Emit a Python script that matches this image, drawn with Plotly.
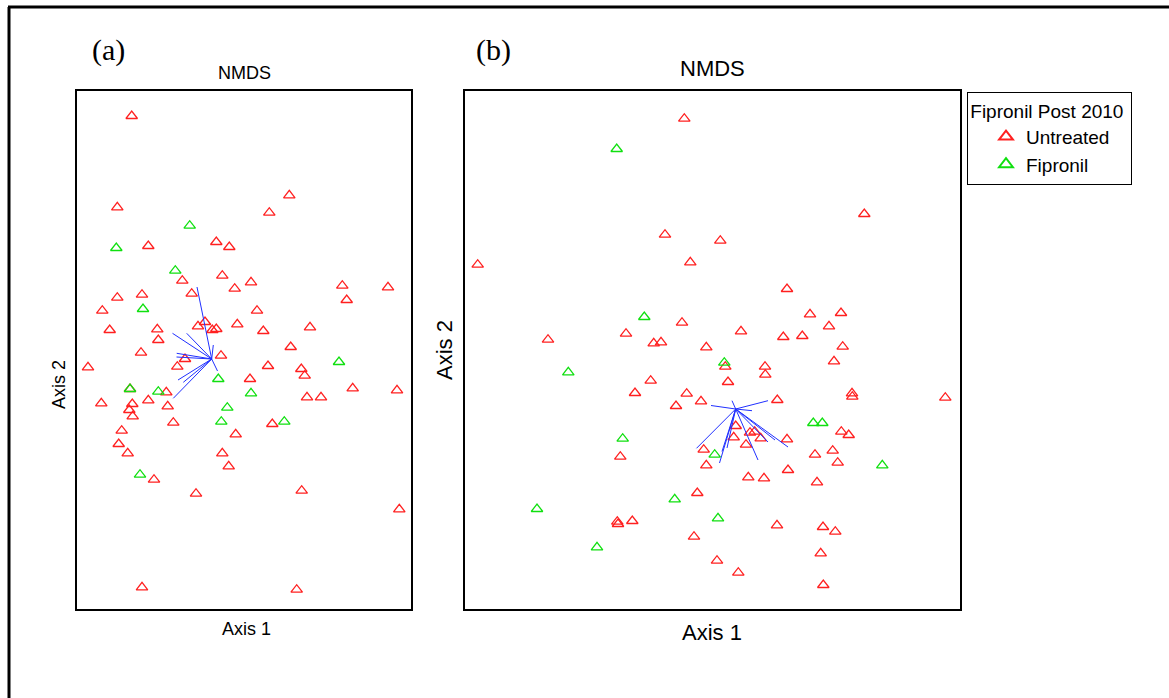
import plotly.graph_objects as go

W, H = 1169, 698

# ---------------- Panel (a) data (Axis 1, Axis 2 scores) ----------------
a_untreated_x = [131.7, 289.3, 269.3, 117.3, 148.3, 216.3, 229.3, 182.3, 222.3, 251, 234.7, 191.7,
                 117.3, 142, 342.3, 388, 346.7, 102.3, 257, 109.7, 157.3, 158.3, 198, 205, 212.3,
                 216.3, 237.3, 263.3, 310, 290.7, 141, 185, 221, 177.3, 88, 268, 301.3, 304.7,
                 250, 130, 166.3, 101.3, 132.3, 148.3, 167.7, 129.3, 132.7, 352.7, 397, 307, 321,
                 173.3, 272.3, 235.7, 121.7, 118.7, 127.7, 222.3, 228.7, 154, 196, 301.7, 399.3,
                 142, 296.7]
a_untreated_y = [116, 195.3, 212.7, 207.3, 246, 242, 247, 280.7, 275.7, 282.3, 288.7, 293.7,
                 297.7, 294.7, 285.7, 287.3, 300, 310.7, 310.7, 330, 329.3, 340, 326.3, 322, 330,
                 329, 324.3, 331, 327.3, 347, 352.7, 359, 355.7, 366.7, 367.3, 366, 369, 375.7,
                 379, 389, 392.3, 403.3, 404, 400.3, 406.3, 410, 416.3, 388.3, 390.3, 397.3, 397.3,
                 422.7, 424, 434.3, 430.7, 444, 453.3, 453.3, 466.3, 479.7, 493.7, 490.7, 509.3,
                 587.3, 589.7]
a_fipronil_x = [189.7, 116.3, 175.3, 143, 339, 218.3, 130, 158.3, 251, 227.3, 221.3, 284.3, 140]
a_fipronil_y = [225.7, 248, 270.7, 309, 362, 379, 389, 391.7, 393.3, 407.7, 421.7, 421.7, 474.7]
a_vec_origin = (211.7, 359)
a_vec_end_x = [197, 172.5, 186.7, 176.7, 176.5, 178, 183.3, 173.3, 217.5, 213.3]
a_vec_end_y = [287, 333.3, 333.3, 353.3, 357, 380, 382.3, 398.3, 371, 345]

# ---------------- Panel (b) data ----------------
b_untreated_x = [684.3, 864.3, 665, 720.3, 477.7, 690.3, 787, 682, 810, 841, 829, 626, 741, 783.3,
                 802.3, 548, 653.7, 661, 706.3, 842.7, 834, 725.3, 765, 765.3, 728, 650.7, 635,
                 686.7, 701, 676, 777.3, 852, 852.3, 945.3, 841.3, 848.7, 735.7, 750, 754.7, 733.7,
                 760.7, 746, 787, 815, 832.7, 837.7, 703.7, 620.3, 706.3, 748.3, 764, 788, 817,
                 697.3, 617.3, 618, 632.3, 777, 823, 835.3, 694, 820.7, 717, 738.3, 823.3]
b_untreated_y = [118.7, 214, 234.7, 240.7, 264.7, 262.3, 289, 322.7, 314.3, 313, 326.3, 333.7, 331.3,
                 337, 336, 339.7, 343.3, 342.3, 347.3, 346.7, 361.3, 366.7, 366.7, 374.7, 382,
                 380.7, 393, 393.7, 401.3, 406, 400, 393.3, 396.7, 397.7, 431.7, 435, 426, 432.7,
                 431.7, 437.3, 438.3, 444.7, 439.3, 454.7, 450.7, 462.7, 449.7, 456.7, 465.3, 477.3,
                 478.3, 470, 482.3, 493, 521.7, 524, 521, 525.3, 527, 531.7, 536.7, 553.3, 560.7,
                 572.7, 585]
b_fipronil_x = [616.7, 644.3, 724.3, 568.3, 813.3, 822.3, 622.7, 714.7, 882.3, 674.7, 537, 718, 597]
b_fipronil_y = [149, 317, 362.7, 372.3, 423, 423, 438.7, 454.7, 465.3, 499.3, 509, 518.3, 547.3]
b_vec_origin = (735.7, 409)
b_vec_end_x = [711, 732, 768, 752, 696.5, 719.5, 722, 727, 758, 768, 788, 775]
b_vec_end_y = [405.5, 400.7, 400.7, 410.7, 448.3, 463, 451.5, 448, 460, 442, 447, 440]

RED = "#ff2020"
GREEN = "#10e010"
BLUE = "#2030ff"
SANS = "Arial, Liberation Sans, sans-serif"
SERIF = "Times New Roman, Liberation Serif, serif"

fig = go.Figure()


def vec_trace(origin, ex, ey, xa, ya):
    xs, ys = [], []
    for x, y in zip(ex, ey):
        xs += [origin[0], x, None]
        ys += [origin[1], y, None]
    return go.Scatter(x=xs, y=ys, mode="lines", line=dict(color=BLUE, width=1),
                      xaxis=xa, yaxis=ya, showlegend=False, hoverinfo="skip")


def mk(c):
    return dict(symbol="triangle-up-open", size=10, color=c, line=dict(width=1.3, color=c))


# panel a
fig.add_trace(go.Scatter(x=a_untreated_x, y=a_untreated_y, mode="markers", marker=mk(RED),
                         name="Untreated", xaxis="x", yaxis="y", showlegend=True))
fig.add_trace(go.Scatter(x=a_fipronil_x, y=a_fipronil_y, mode="markers", marker=mk(GREEN),
                         name="Fipronil", xaxis="x", yaxis="y", showlegend=True))
fig.add_trace(vec_trace(a_vec_origin, a_vec_end_x, a_vec_end_y, "x", "y"))
# panel b
fig.add_trace(go.Scatter(x=b_untreated_x, y=b_untreated_y, mode="markers", marker=mk(RED),
                         name="Untreated", xaxis="x2", yaxis="y2", showlegend=False))
fig.add_trace(go.Scatter(x=b_fipronil_x, y=b_fipronil_y, mode="markers", marker=mk(GREEN),
                         name="Fipronil", xaxis="x2", yaxis="y2", showlegend=False))
fig.add_trace(vec_trace(b_vec_origin, b_vec_end_x, b_vec_end_y, "x2", "y2"))


def px(x):
    return x / W


def py(y):
    return 1 - y / H


ax_common = dict(showline=True, mirror=True, linecolor="black", linewidth=2, showgrid=False,
                 zeroline=False, showticklabels=False, ticks="")

fig.update_layout(
    width=W, height=H,
    margin=dict(l=0, r=0, t=0, b=0),
    paper_bgcolor="white", plot_bgcolor="white",
    font=dict(family=SANS, color="black"),
    xaxis=dict(domain=[px(77), px(411)], range=[77, 411], anchor="y", **ax_common),
    yaxis=dict(domain=[py(609), py(91)], range=[609, 91], anchor="x", **ax_common),
    xaxis2=dict(domain=[px(465), px(960)], range=[465, 960], anchor="y2", **ax_common),
    yaxis2=dict(domain=[py(609), py(91)], range=[609, 91], anchor="x2", **ax_common),
    legend=dict(x=px(967), y=py(92), xanchor="left", yanchor="top",
                bordercolor="black", borderwidth=1, bgcolor="white",
                font=dict(size=19, family=SANS), indentation=18,
                title=dict(text="Fipronil Post 2010 ", side="top center",
                           font=dict(size=19, family=SANS)),
                itemsizing="constant", tracegroupgap=0, itemwidth=30),
)

anns = [
    dict(text="(a)", x=px(108), y=py(50), font=dict(family=SERIF, size=30)),
    dict(text="(b)", x=px(493), y=py(50), font=dict(family=SERIF, size=30)),
    dict(text="NMDS", x=px(244), y=py(73), font=dict(size=18)),
    dict(text="NMDS", x=px(712), y=py(68), font=dict(size=22)),
    dict(text="Axis 1", x=px(246), y=py(629), font=dict(size=18)),
    dict(text="Axis 1", x=px(712), y=py(632), font=dict(size=22)),
    dict(text="Axis 2", x=px(59), y=py(385), font=dict(size=18), textangle=-90),
    dict(text="Axis 2", x=px(444), y=py(350), font=dict(size=22), textangle=-90),
]
for a in anns:
    a.update(xref="paper", yref="paper", showarrow=False, xanchor="center", yanchor="middle")
    fig.add_annotation(**a)

# outer frame lines
fig.add_shape(type="line", xref="paper", yref="paper", x0=px(8), x1=1.0, y0=py(7), y1=py(7),
              line=dict(color="black", width=3))
fig.add_shape(type="line", xref="paper", yref="paper", x0=px(9), x1=px(9), y0=py(7), y1=0,
              line=dict(color="black", width=3))

fig.write_html("out.html", config={"displayModeBar": False},
               post_script="document.body.style.margin='0';document.body.style.overflow='hidden';")
